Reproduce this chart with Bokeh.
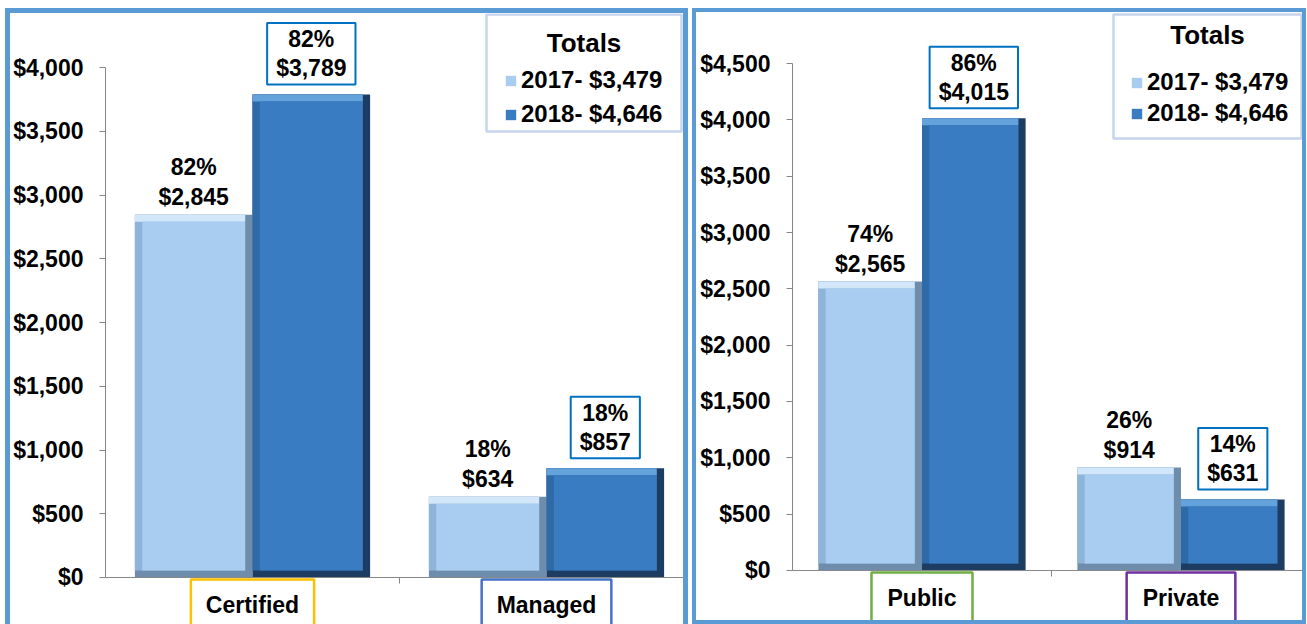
from bokeh.plotting import figure
from bokeh.models import (ColumnDataSource, FactorRange, Range1d, Legend, LegendItem,
                          Label, NumeralTickFormatter, Span, BoxAnnotation)
from bokeh.transform import dodge
from bokeh.layouts import row
from bokeh.core.properties import value
from bokeh.embed import file_html
from bokeh.resources import INLINE

# ---------------- data ----------------
left_cats = ["Certified", "Managed"]
left_2017 = [2845, 634]
left_2018 = [3789, 857]
left_pct_2017 = ["82%", "18%"]
left_pct_2018 = ["82%", "18%"]
left_box_colors = ["#FFC000", "#4472C4"]
left_ticks = [0, 500, 1000, 1500, 2000, 2500, 3000, 3500, 4000]

right_cats = ["Public", "Private"]
right_2017 = [2565, 914]
right_2018 = [4015, 631]
right_pct_2017 = ["74%", "26%"]
right_pct_2018 = ["86%", "14%"]
right_box_colors = ["#70AD47", "#7030A0"]
right_ticks = [0, 500, 1000, 1500, 2000, 2500, 3000, 3500, 4000, 4500]

legend_title = "Totals"
legend_2017 = "2017- $3,479"
legend_2018 = "2018- $4,646"

FONT = value("Liberation Sans")
AX = "#868686"

PAL17 = dict(dark="#6E8DAD", mid="#8FB4D9", hi="#D2E7FA", face="#A9CDF1")
PAL18 = dict(dark="#1C3C62", mid="#2F6AA8", hi="#64A2DB", face="#3A7CC2")


def build_panel(cats, v17, v18, p17, p18, box_colors, ticks, yr, W, H, styles,
                mbl, bev_y, bev_x, tick_len, cat_pad, box, leg_loc, leg_sp):
    p = figure(x_range=FactorRange(factors=cats), y_range=Range1d(*yr),
               width=W, height=H, output_backend="svg", toolbar_location=None,
               min_border_left=mbl, min_border_right=0, min_border_top=0,
               min_border_bottom=0, outline_line_color=None,
               background_fill_color="white", border_fill_color="white")
    p.styles = styles
    p.xgrid.grid_line_color = None
    p.ygrid.grid_line_color = None
    p.xaxis.visible = False

    # y axis
    p.yaxis.ticker = ticks
    p.yaxis.bounds = (ticks[0], ticks[-1])
    p.yaxis.formatter = NumeralTickFormatter(format="$0,0")
    p.yaxis.axis_line_color = AX
    p.yaxis.major_tick_line_color = AX
    p.yaxis.major_tick_out = 6
    p.yaxis.major_tick_in = 0
    p.yaxis.minor_tick_line_color = None
    p.yaxis.major_label_text_font = "Liberation Sans"
    p.yaxis.major_label_text_font_style = "bold"
    p.yaxis.major_label_text_font_size = "23px"
    p.yaxis.major_label_text_color = "black"
    p.yaxis.major_label_standoff = 16

    # category baseline and separator tick
    p.add_layout(Span(location=0, dimension="width", line_color=AX, line_width=1))
    p.segment(x0=dodge("cat", 0.5, range=p.x_range), y0=0,
              x1=dodge("cat", 0.5, range=p.x_range), y1=-tick_len,
              line_color=AX, line_width=1,
              source=ColumnDataSource(dict(cat=cats[:1])))

    src = ColumnDataSource(dict(
        cat=cats,
        v17=v17, v18=v18,
        v17_in=[v - bev_y for v in v17],
        v18_in=[v - bev_y for v in v18],
        t17=[f"{a}\n${b:,}" for a, b in zip(p17, v17)],
        t18=[f"{a}\n${b:,}" for a, b in zip(p18, v18)],
    ))

    faces = {}
    for key, off, pal in (("17", -0.2, PAL17), ("18", 0.2, PAL18)):
        p.vbar(x=dodge("cat", off, range=p.x_range), top=f"v{key}", bottom=0,
               width=0.4, fill_color=pal["dark"], line_color=None, source=src)
        p.vbar(x=dodge("cat", off - bev_x / 2, range=p.x_range), top=f"v{key}",
               bottom=bev_y, width=0.4 - bev_x, fill_color=pal["mid"],
               line_color=None, source=src)
        p.vbar(x=dodge("cat", off - bev_x / 2, range=p.x_range), top=f"v{key}",
               bottom=f"v{key}_in", width=0.4 - bev_x, fill_color=pal["hi"],
               line_color=None, source=src)
        faces[key] = p.vbar(x=dodge("cat", off, range=p.x_range), top=f"v{key}_in",
                            bottom=bev_y, width=0.4 - 2 * bev_x,
                            fill_color=pal["face"], line_color=None, source=src)

    p.text(x=dodge("cat", -0.2, range=p.x_range), y="v17", text="t17", source=src,
           text_align="center", text_baseline="bottom", y_offset=-5,
           text_font=FONT, text_font_style="bold", text_font_size="23px",
           text_line_height=1.13, text_color="black")
    p.text(x=dodge("cat", 0.2, range=p.x_range), y="v18", text="t18", source=src,
           text_align="center", text_baseline="bottom", y_offset=-10,
           text_font=FONT, text_font_style="bold", text_font_size="23px",
           text_line_height=1.13, text_color="black",
           border_line_color="#0070C0", border_line_width=2,
           background_fill_color="white",
           padding=dict(left=9, right=9, top=3, bottom=3))

    # boxed category labels under the baseline
    for c, col in zip(cats, box_colors):
        p.text(x=[c], y=[0], text=[c], text_align="center", text_baseline="top",
               y_offset=2, text_font=FONT, text_font_style="bold",
               text_font_size="23px", text_color="black",
               border_line_color=col, border_line_width=2.5,
               background_fill_color="white",
               padding=dict(left=cat_pad, right=cat_pad, top=13, bottom=16))

    # legend box with centred title
    p.add_layout(BoxAnnotation(left=box[0], right=box[1], top=box[2], bottom=box[3],
                               left_units="screen", right_units="screen",
                               top_units="screen", bottom_units="screen",
                               fill_color=None, fill_alpha=0,
                               line_color="#4472C4", line_width=2.5))
    p.add_layout(Label(x=(box[0] + box[1]) / 2, y=box[2] - leg_sp[2],
                       x_units="screen", y_units="screen", text=legend_title,
                       text_align="center", text_baseline="middle",
                       text_font="Liberation Sans", text_font_style="bold",
                       text_font_size="26px", text_color="black"))
    legend = Legend(items=[LegendItem(label=legend_2017, renderers=[faces["17"]]),
                           LegendItem(label=legend_2018, renderers=[faces["18"]])],
                    location=leg_loc,
                    label_text_font="Liberation Sans", label_text_font_style="bold",
                    label_text_font_size="24px", label_text_color="black",
                    glyph_width=13, glyph_height=13, label_height=leg_sp[0],
                    spacing=leg_sp[1], padding=0, margin=0, label_standoff=4,
                    border_line_color=None, background_fill_alpha=0)
    p.add_layout(legend)
    return p


left = build_panel(left_cats, left_2017, left_2018, left_pct_2017, left_pct_2018,
                   left_box_colors, left_ticks, (-408, 4424), 683, 616,
                   {"border": "5px solid #5B9BD5", "border-bottom-width": "0px"},
                   94, 55, 0.025, 47, 15,
                   (381, 576, 615, 498), (399, 500), (30, 4, 28))
right = build_panel(right_cats, right_2017, right_2018, right_pct_2017, right_pct_2018,
                    right_box_colors, right_ticks, (-515, 4953), 614, 616,
                    {"border": "4px solid #5B9BD5"},
                    96, 62, 0.028, 53, 16,
                    (321, 509, 614, 490), (338, 501), (28, 3, 20))
left.margin = (8, 0, 0, 5)
right.margin = (8, 0, 0, 0)

layout = row(left, right, spacing=4)
open("out.html", "w").write(file_html(layout, INLINE))
